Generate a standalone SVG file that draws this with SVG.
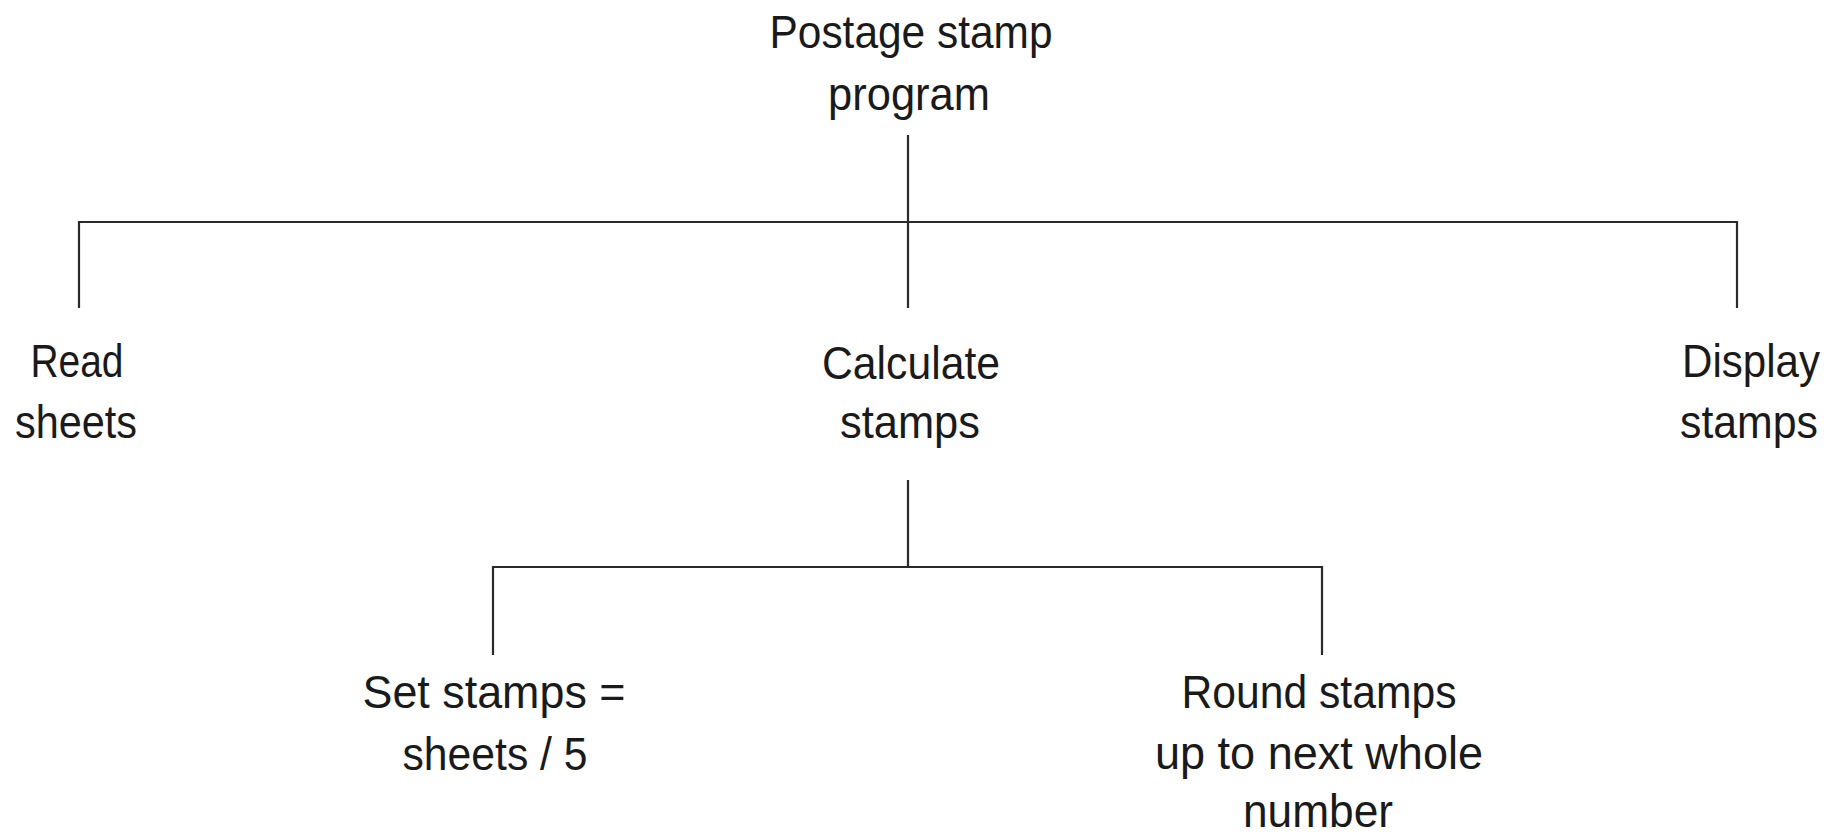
<svg xmlns="http://www.w3.org/2000/svg" width="1841" height="838" viewBox="0 0 1841 838">
  <style>
    .lbl { font-family: "Liberation Sans", Arial, sans-serif; font-size: 46px; fill: #1a1a1a; text-anchor: middle; }
    .wire { stroke: #2a2a2a; stroke-width: 2.2; fill: none; stroke-linecap: butt; }
  </style>
  <rect width="1841" height="838" fill="#ffffff"/>

  <!-- structure chart connectors -->
  <g id="connectors">
    <path class="wire" d="M908 135 V308"/>
    <path class="wire" d="M79 308 V222 H1737 V308"/>
    <path class="wire" d="M908 480 V567"/>
    <path class="wire" d="M493 655 V567 H1322 V655"/>
  </g>

  <g id="node-program">
    <text class="lbl" x="911" y="48" textLength="283" lengthAdjust="spacingAndGlyphs">Postage stamp</text>
    <text class="lbl" x="909" y="110" textLength="162" lengthAdjust="spacingAndGlyphs">program</text>
  </g>

  <g id="node-read">
    <text class="lbl" x="77" y="377" textLength="93" lengthAdjust="spacingAndGlyphs">Read</text>
    <text class="lbl" x="76" y="438" textLength="122" lengthAdjust="spacingAndGlyphs">sheets</text>
  </g>

  <g id="node-calculate">
    <text class="lbl" x="911" y="379" textLength="178" lengthAdjust="spacingAndGlyphs">Calculate</text>
    <text class="lbl" x="910" y="438" textLength="140" lengthAdjust="spacingAndGlyphs">stamps</text>
  </g>

  <g id="node-display">
    <text class="lbl" x="1751" y="377" textLength="138" lengthAdjust="spacingAndGlyphs">Display</text>
    <text class="lbl" x="1749" y="438" textLength="138" lengthAdjust="spacingAndGlyphs">stamps</text>
  </g>

  <g id="node-set">
    <text class="lbl" x="494" y="708" textLength="263" lengthAdjust="spacingAndGlyphs">Set stamps =</text>
    <text class="lbl" x="495" y="770" textLength="185" lengthAdjust="spacingAndGlyphs">sheets / 5</text>
  </g>

  <g id="node-round">
    <text class="lbl" x="1319" y="708" textLength="275" lengthAdjust="spacingAndGlyphs">Round stamps</text>
    <text class="lbl" x="1319" y="769" textLength="328" lengthAdjust="spacingAndGlyphs">up to next whole</text>
    <text class="lbl" x="1318" y="827" textLength="150" lengthAdjust="spacingAndGlyphs">number</text>
  </g>
</svg>
